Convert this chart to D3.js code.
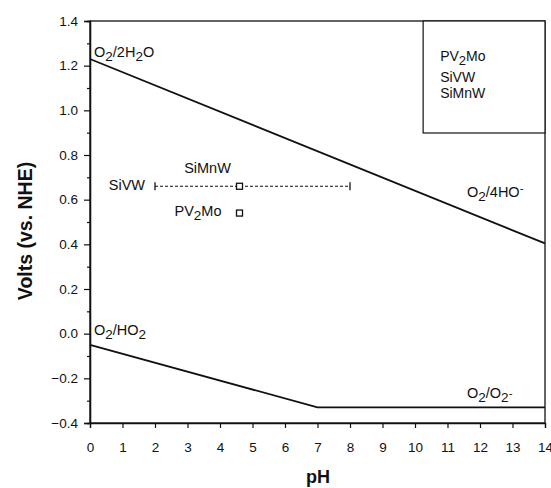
<!DOCTYPE html>
<html>
<head>
<meta charset="utf-8">
<script src="https://cdn.jsdelivr.net/npm/d3@7"></script>
<style>
  body { margin: 0; background: #fff; }
  text { font-family: "Liberation Sans", Arial, sans-serif; fill: #111; }
</style>
</head>
<body>
<svg id="chart" width="551" height="488"></svg>
<script>
const margin = {top: 21, right: 6, bottom: 65, left: 90};
const width = 551 - margin.left - margin.right;
const height = 488 - margin.top - margin.bottom;

// O2 couples vs pH
const waterLine = [[0, 1.23], [14, 0.404]];
const superoxideLine = [[0, -0.05], [7, -0.33], [14, -0.33]];

// polyoxometalate potentials
const pointNames = ['SiMnW', 'PV2Mo'];
const pointPH = [4.6, 4.6];
const pointVolts = [0.66, 0.54];
const errorRange = [2, 8]; // pH range of SiMnW / SiVW bar

const xTicks = d3.range(0, 15);
const yTicks = [-0.4, -0.2, 0.0, 0.2, 0.4, 0.6, 0.8, 1.0, 1.2, 1.4];
const yMinor = d3.range(-0.3, 1.4, 0.2);

const legendNames = [['PV', '2', 'Mo'], ['SiVW'], ['SiMnW']];

const svg = d3.select('#chart');
const g = svg.append('g').attr('transform', `translate(${margin.left},${margin.top})`);

const x = d3.scaleLinear().domain([0, 14]).range([0, width]);
const y = d3.scaleLinear().domain([-0.4, 1.4]).range([height, 0]);

// frame
g.append('rect')
    .attr('width', width).attr('height', height)
    .attr('fill', 'none').attr('stroke', '#111').attr('stroke-width', 1.3);

g.append('g')
    .attr('transform', `translate(0,${height})`)
    .call(d3.axisBottom(x).tickValues(xTicks).tickFormat(d3.format('d')).tickSize(5).tickPadding(14));
g.append('g')
    .call(d3.axisLeft(y).tickValues(yTicks).tickFormat(d3.format('.1f')).tickSize(6).tickPadding(6));
g.append('g')
    .call(d3.axisLeft(y).tickValues(yMinor).tickFormat('').tickSize(3));

g.selectAll('.domain').attr('stroke', '#111').attr('stroke-width', 1.3);
g.selectAll('.tick line').attr('stroke', '#111').attr('stroke-width', 1.2);
g.selectAll('.tick text').style('font-size', '13.5px').attr('fill', '#111');

const line = d3.line().x(d => x(d[0])).y(d => y(d[1]));
[waterLine, superoxideLine].forEach(data => {
  g.append('path').datum(data).attr('d', line)
      .attr('fill', 'none').attr('stroke', '#111').attr('stroke-width', 1.8);
});

// subscript-capable labels
function chemLabel(parent, px, py, parts, size) {
  const t = parent.append('text').attr('x', px).attr('y', py).style('font-size', size + 'px');
  parts.forEach(p => {
    const s = t.append('tspan').text(p.t);
    if (p.sub) s.attr('dy', 4).style('font-size', (size - 1) + 'px');
    else if (p.sup) s.attr('dy', -5).style('font-size', (size - 3) + 'px');
    if (p.back) s.attr('dy', p.back);
  });
  return t;
}

const fs = 14.5;
chemLabel(g, 4, 36, [{t: 'O'}, {t: '2', sub: true}, {t: '/2H', back: -4}, {t: '2', sub: true}, {t: 'O', back: -4}], fs);
chemLabel(g, x(11.6), y(0.6) - 3, [{t: 'O'}, {t: '2', sub: true}, {t: '/4HO', back: -4}, {t: '-', sup: true}], fs);
chemLabel(g, 4, y(0.0) + 1, [{t: 'O'}, {t: '2', sub: true}, {t: '/HO', back: -4}, {t: '2', sub: true}], fs);
chemLabel(g, x(11.6), y(-0.33) - 9, [{t: 'O'}, {t: '2', sub: true}, {t: '/O', back: -4}, {t: '2', sub: true}, {t: '-', sup: true}], fs);

// error bar (dashed)
const eb = g.append('g');
eb.append('line')
    .attr('x1', x(errorRange[0])).attr('x2', x(errorRange[1]))
    .attr('y1', y(pointVolts[0])).attr('y2', y(pointVolts[0]))
    .attr('stroke', '#111').attr('stroke-width', 1.2).attr('stroke-dasharray', '3,2');
errorRange.forEach(v => {
  eb.append('line')
      .attr('x1', x(v)).attr('x2', x(v))
      .attr('y1', y(pointVolts[0]) - 4).attr('y2', y(pointVolts[0]) + 4)
      .attr('stroke', '#111').attr('stroke-width', 1.3);
});

g.selectAll('.pt').data(pointNames).join('rect')
    .attr('class', 'pt')
    .attr('x', (d, i) => x(pointPH[i]) - 3)
    .attr('y', (d, i) => y(pointVolts[i]) - 3)
    .attr('width', 6).attr('height', 6)
    .attr('fill', '#fff').attr('stroke', '#111').attr('stroke-width', 1.3);

// point labels
g.append('text').attr('x', x(errorRange[0]) - 10).attr('y', y(pointVolts[0]) + 4)
    .attr('text-anchor', 'end').style('font-size', fs + 'px').text('SiVW');
g.append('text').attr('x', x(pointPH[0]) - 32).attr('y', y(pointVolts[0]) - 13)
    .attr('text-anchor', 'middle').style('font-size', fs + 'px').text('SiMnW');
chemLabel(g, x(pointPH[1]) - 65, y(pointVolts[1]) + 3, [{t: 'PV'}, {t: '2', sub: true}, {t: 'Mo', back: -4}], fs);

// legend box
const lg = g.append('g').attr('transform', `translate(${x(10.25)},0)`);
lg.append('rect').attr('width', width - x(10.25)).attr('height', 112)
    .attr('fill', '#fff').attr('stroke', '#111').attr('stroke-width', 1.2);
[40, 61, 77].forEach((ly, i) => {
  const parts = legendNames[i];
  const p = parts.length > 1
    ? [{t: parts[0]}, {t: parts[1], sub: true}, {t: parts[2], back: -4}]
    : [{t: parts[0]}];
  chemLabel(lg, 17, ly, p, 14);
});

// axis titles
svg.append('text')
    .attr('x', 318).attr('y', 483)
    .attr('text-anchor', 'middle')
    .style('font-size', '18px').style('font-weight', 'bold').text('pH');
svg.append('text')
    .attr('transform', `translate(32,231) rotate(-90)`)
    .attr('text-anchor', 'middle')
    .style('font-size', '19.5px').style('font-weight', 'bold').text('Volts (vs. NHE)');
</script>
</body>
</html>
